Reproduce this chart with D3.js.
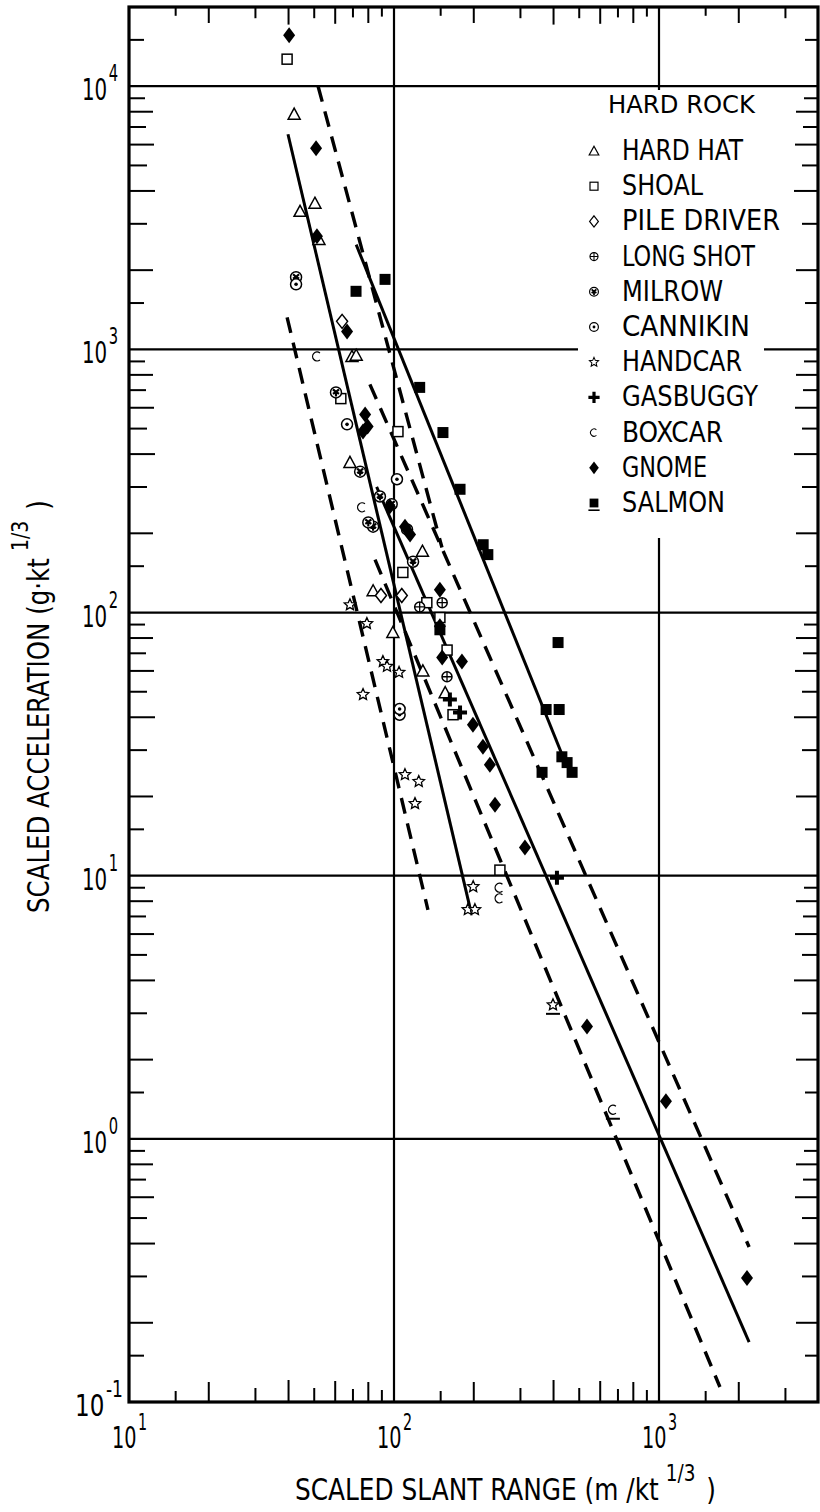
<!DOCTYPE html>
<html>
<head>
<meta charset="utf-8">
<title>Scaled acceleration vs scaled slant range</title>
<script src="https://cdn.jsdelivr.net/npm/d3@7"></script>
<style>
  body { margin: 0; background: #fff; }
  text { font-family: "Liberation Sans Narrow", "DejaVu Sans Condensed", "DejaVu Sans", sans-serif; fill: #000; }
</style>
</head>
<body>
<svg id="chart" width="820" height="1512"></svg>
<script>
// ---- data ----
const xDecades = [10, 100, 1000];
const yDecades = [0.1, 1, 10, 100, 1000, 10000];
const minorSteps = [1.5, 2, 3, 4, 5, 6, 7, 8, 9];

const legendNames = ["HARD HAT", "SHOAL", "PILE DRIVER", "LONG SHOT", "MILROW", "CANNIKIN",
                     "HANDCAR", "GASBUGGY", "BOXCAR", "GNOME", "SALMON"];

const hardHat = [[42, 7830], [44.2, 3346], [50.3, 3592], [52.1, 2618], [69.4, 940], [72, 950],
                 [68.2, 372], [83.4, 121], [99, 84], [128.5, 60], [156, 49.6], [128, 171]];
const shoal = [[39.5, 12670], [63, 650], [103.5, 487], [108, 142], [133, 109], [158.6, 72],
               [149, 95.7], [167, 40.9], [251, 10.5]];
const pileDriver = [[63.7, 1278], [89.3, 116], [107, 116]];
const longShot = [[152, 109], [125, 105], [158.5, 57]];
const milrow = [[42.7, 1880], [60.4, 686], [74.5, 343], [88.5, 276], [83.4, 212], [80, 220],
                [112, 207], [118, 156], [98, 258]];
const cannikin = [[42.7, 1767], [66.5, 519], [102.6, 321], [105, 40.9], [105, 43]];
const handcar = [[68.2, 107], [79, 90.8], [90.8, 65.1], [94.1, 62.4], [104.5, 59.2], [76.4, 48.8],
                 [110, 24.2], [124, 22.8], [120, 18.8], [199, 9.08], [190, 7.43], [202, 7.43]];
const handcarMarked = [[398, 3.23]];
const gasbuggy = [[162.5, 46.7], [177.5, 41.7], [412, 9.83]];
const boxcar = [[51.2, 940], [75.7, 251], [250, 9.0], [250, 8.2]];
const boxcarMarked = [[670, 1.29]];
const gnome = [[40.2, 15630], [50.8, 5810], [51.2, 2690], [66.5, 1170], [77.8, 566], [79.5, 509],
               [76.4, 487], [96.4, 253], [110, 212], [115, 198], [149, 122], [149, 88.6], [152, 67.5],
               [180.5, 65.1], [198.6, 37.5], [216.6, 30.9], [230, 26.4], [240.5, 18.6], [312, 12.8],
               [535, 2.67], [1062, 1.39], [2148, 0.296]];
const salmon = [[71.9, 1662], [92.5, 1845], [125, 717], [153, 483], [177.5, 294], [217, 181],
                [226, 166], [416, 76.9], [375, 42.8], [420, 42.8], [430, 28.3], [450, 26.9],
                [470, 24.7], [362, 24.7], [149, 86]];

// fitted lines (end points, data units)
const solidLines = [
  [[39.8, 6570], [193.6, 7.55]],
  [[86, 300], [2188, 0.169]],
  [[72, 2500], [434, 28.3]]
];
const dashedLines = [
  [[39.5, 1323], [134.3, 7.42]],
  [[84.8, 159], [1698, 0.114]],
  [[81.1, 736], [2188, 0.388]],
  [[51.7, 10000], [151.7, 176.6]]
];

// ---- layout ----
const svg = d3.select("#chart");
const pLeft = 129, pRight = 818, pTop = 7, pBottom = 1402;

const x = d3.scaleLog().domain([10, 3981]).range([pLeft, pRight]);
const y = d3.scaleLog().domain([0.1, 20000]).range([pBottom, pTop]);

const tickLen = {1.5: 11, 2: 20, 3: 14, 4: 22, 5: 14, 6: 21, 7: 13, 8: 20, 9: 12};

// squeeze a text to a given width (the lettering of the original is condensed)
function fit(sel, w) {
  return sel.attr("textLength", w).attr("lengthAdjust", "spacingAndGlyphs");
}
// base text + raised exponent (+ optional tail) as one text element, squeezed to width w
function powerText(parent, x0, y0, base, sup, tail, size, supSize, rise, w, rot, gap) {
  const t = parent.append("text").attr("font-size", size);
  t.append("tspan").text(base);
  t.append("tspan").attr("font-size", supSize).attr("dx", gap || 2).attr("dy", -rise).text(sup);
  if (tail) t.append("tspan").attr("font-size", size).attr("dx", (gap || 2) + 4).attr("dy", rise).text(tail);
  const nat = t.node().getBBox().width;
  t.attr("transform", `translate(${x0},${y0})${rot ? " rotate(" + rot + ")" : ""} scale(${w / nat},1)`);
  return t;
}

// gridlines
svg.append("g").selectAll("line").data(yDecades.slice(1))
  .enter().append("line")
  .attr("x1", pLeft).attr("x2", pRight)
  .attr("y1", d => y(d)).attr("y2", d => y(d))
  .attr("stroke", "#000").attr("stroke-width", 2.2);
svg.append("g").selectAll("line").data(xDecades.slice(1))
  .enter().append("line")
  .attr("x1", d => x(d)).attr("x2", d => x(d))
  .attr("y1", pTop).attr("y2", pBottom)
  .attr("stroke", "#000").attr("stroke-width", 2.2);

// minor ticks
const xMinor = [];
xDecades.forEach(d => minorSteps.forEach(k => { if (d * k < 3981) xMinor.push([d * k, k]); }));
const yMinor = [];
yDecades.forEach(d => minorSteps.forEach(k => { if (d * k < 20000) yMinor.push([d * k, k]); }));

const ticks = svg.append("g").attr("stroke", "#000").attr("stroke-width", 2);
ticks.selectAll(".tb").data(xMinor).enter().append("line")
  .attr("x1", d => x(d[0])).attr("x2", d => x(d[0]))
  .attr("y1", pBottom).attr("y2", d => pBottom - tickLen[d[1]]);
ticks.selectAll(".tt").data(xMinor).enter().append("line")
  .attr("x1", d => x(d[0])).attr("x2", d => x(d[0]))
  .attr("y1", pTop).attr("y2", d => pTop + tickLen[d[1]] * 0.8);
ticks.selectAll(".tl").data(yMinor).enter().append("line")
  .attr("y1", d => y(d[0])).attr("y2", d => y(d[0]))
  .attr("x1", pLeft).attr("x2", d => pLeft + tickLen[d[1]] + 4);
ticks.selectAll(".tr").data(yMinor).enter().append("line")
  .attr("y1", d => y(d[0])).attr("y2", d => y(d[0]))
  .attr("x1", pRight).attr("x2", d => pRight - tickLen[d[1]] - 2);

// legend box (white, hides gridlines)
svg.append("rect").attr("x", 578).attr("y", 90).attr("width", 186).attr("height", 448)
  .attr("fill", "#fff");

// fitted lines
const lineGen = d3.line().x(d => x(d[0])).y(d => y(d[1]));
svg.append("g").selectAll("path").data(solidLines).enter().append("path")
  .attr("d", lineGen).attr("fill", "none").attr("stroke", "#000").attr("stroke-width", 3);
svg.append("g").selectAll("path").data(dashedLines).enter().append("path")
  .attr("d", lineGen).attr("fill", "none").attr("stroke", "#000").attr("stroke-width", 3.4)
  .attr("stroke-dasharray", "16,10");

// frame
svg.append("rect").attr("x", pLeft).attr("y", pTop).attr("width", pRight - pLeft).attr("height", pBottom - pTop)
  .attr("fill", "none").attr("stroke", "#000").attr("stroke-width", 3.2);

// ---- markers ----
function star(ro, ri) {
  const p = d3.path();
  for (let i = 0; i < 10; i++) {
    const r = i % 2 ? ri : ro, a = -Math.PI / 2 + i * Math.PI / 5;
    i ? p.lineTo(r * Math.cos(a), r * Math.sin(a)) : p.moveTo(r * Math.cos(a), r * Math.sin(a));
  }
  p.closePath();
  return p.toString();
}
const shapes = {
  triangle: g => g.append("path").attr("d", "M0,-6L6,5L-6,5Z").attr("fill", "#fff").attr("stroke", "#000").attr("stroke-width", 1.5),
  square: g => g.append("rect").attr("x", -5).attr("y", -5).attr("width", 10).attr("height", 10)
    .attr("fill", "#fff").attr("stroke", "#000").attr("stroke-width", 1.5),
  diamondOpen: g => g.append("path").attr("d", "M0,-7L5.5,0L0,7L-5.5,0Z").attr("fill", "#fff").attr("stroke", "#000").attr("stroke-width", 1.5),
  plusCircle: g => {
    g.append("circle").attr("r", 5).attr("fill", "#fff").attr("stroke", "#000").attr("stroke-width", 1.5);
    g.append("path").attr("d", "M-5,0H5M0,-5V5").attr("stroke", "#000").attr("stroke-width", 1.3);
  },
  milrow: g => {
    g.append("circle").attr("r", 5.5).attr("fill", "#fff").attr("stroke", "#000").attr("stroke-width", 1.5);
    g.append("path").attr("d", "M-3,-3L0,-0.5L3,-3M-3,1.5L0,-0.5L3,1.5M0,-0.5V4")
      .attr("stroke", "#000").attr("stroke-width", 2.2).attr("fill", "none");
  },
  cannikin: g => {
    g.append("circle").attr("r", 5.5).attr("fill", "#fff").attr("stroke", "#000").attr("stroke-width", 1.5);
    g.append("circle").attr("r", 1.8).attr("fill", "#000");
  },
  star: g => g.append("path").attr("d", star(6, 2.8)).attr("fill", "#fff").attr("stroke", "#000").attr("stroke-width", 1.3),
  gasbuggy: g => g.append("path").attr("d", "M-2,-7H2V-2H7V2H2V7H-2V2H-7V-2H-2Z").attr("fill", "#000"),
  boxcar: g => g.append("path").attr("d", "M3,-3.5A4.5,4.5 0 1 0 3,3.5").attr("fill", "none").attr("stroke", "#000").attr("stroke-width", 1.3),
  diamond: g => g.append("path").attr("d", "M0,-8L6,0L0,8L-6,0Z").attr("fill", "#000"),
  squareFilled: g => g.append("rect").attr("x", -5.5).attr("y", -5.5).attr("width", 11).attr("height", 11).attr("fill", "#000")
};
function underline(g) {
  g.append("line").attr("x1", -7).attr("x2", 7).attr("y1", 9).attr("y2", 9).attr("stroke", "#000").attr("stroke-width", 2);
}

const series = [
  [hardHat, "triangle"], [shoal, "square"], [pileDriver, "diamondOpen"], [longShot, "plusCircle"],
  [milrow, "milrow"], [cannikin, "cannikin"], [handcar, "star"], [gasbuggy, "gasbuggy"],
  [boxcar, "boxcar"], [gnome, "diamond"], [salmon, "squareFilled"]
];
const marks = svg.append("g");
series.forEach(([pts, shape]) => {
  pts.forEach(p => {
    const g = marks.append("g").attr("transform", `translate(${x(p[0])},${y(p[1])})`);
    shapes[shape](g);
  });
});
[[handcarMarked, "star"], [boxcarMarked, "boxcar"]].forEach(([pts, shape]) => {
  pts.forEach(p => {
    const g = marks.append("g").attr("transform", `translate(${x(p[0])},${y(p[1])})`);
    shapes[shape](g);
    underline(g);
  });
});

// ---- legend ----
const legendWidths = [121, 81, 158, 133, 101, 128, 120, 136, 101, 85, 103];
const leg = svg.append("g");
fit(leg.append("text").attr("x", 608).attr("y", 113).attr("font-size", 25).text("HARD ROCK"), 147);
legendNames.forEach((name, i) => {
  const yy = 160 + i * 35.2;
  fit(leg.append("text").attr("x", 622).attr("y", yy).attr("font-size", 29).text(name), legendWidths[i]);
  const g = leg.append("g").attr("transform", `translate(594,${yy - 9}) scale(0.8)`);
  shapes[series[i][1]](g);
  if (name === "SALMON") underline(g);
});

// ---- tick labels ----
const expo = v => String(Math.round(Math.log10(v)));
const yl = svg.append("g");
yDecades.forEach(v => {
  const e = expo(v), w = e.length > 1 ? 48 : 36;
  powerText(yl, (e.length > 1 ? 123 : 118) - w, y(v) + 14, "10", e, null, 31, 23, 19, w);
});
const xl = svg.append("g");
xDecades.forEach(v => {
  powerText(xl, x(v) - 17, 1448, "10", expo(v), null, 31, 23, 18, 35);
});

// ---- axis titles ----
powerText(svg, 295, 1500, "SCALED SLANT RANGE (m /kt", "1/3", ")", 31, 23, 19, 421, null, 8);
powerText(svg, 49, 913, "SCALED ACCELERATION (g\u00b7kt", "1/3", ")", 30, 23, 21, 413, -90, 8);
</script>
</body>
</html>
